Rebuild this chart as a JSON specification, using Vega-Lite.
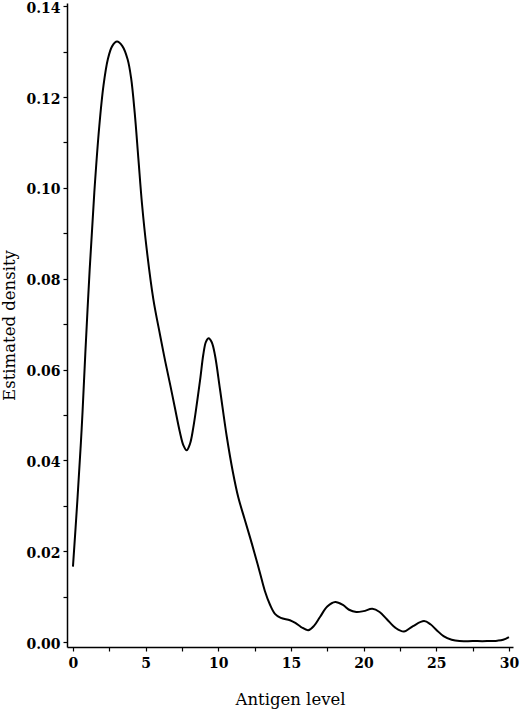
{
  "$schema": "https://vega.github.io/schema/vega-lite/v6.json",
  "autosize": {"type": "none"},
  "padding": {"left": 67, "top": 3, "right": 7, "bottom": 62},
  "width": 446,
  "height": 644,
  "background": "white",
  "config": {
    "view": {"stroke": null},
    "font": "DejaVu Serif",
    "axis": {
      "grid": false,
      "domainColor": "black",
      "domainWidth": 1.5,
      "tickColor": "black",
      "tickWidth": 1.2,
      "tickSize": 4,
      "labelColor": "black",
      "labelFont": "DejaVu Serif",
      "labelFontSize": 14,
      "labelFontWeight": "bold",
      "titleFont": "DejaVu Serif",
      "titleFontSize": 16.5,
      "titleFontWeight": "normal",
      "titleColor": "black"
    }
  },
  "data": {
    "values": [
      {"x": 0, "y": 0.0166},
      {"x": 0.3, "y": 0.031},
      {"x": 0.6, "y": 0.047},
      {"x": 0.85, "y": 0.0635},
      {"x": 1.15, "y": 0.082},
      {"x": 1.47, "y": 0.099},
      {"x": 1.81, "y": 0.1135},
      {"x": 2.1, "y": 0.1225},
      {"x": 2.4, "y": 0.1283},
      {"x": 2.7, "y": 0.1312},
      {"x": 3.03, "y": 0.1322},
      {"x": 3.4, "y": 0.1312},
      {"x": 3.76, "y": 0.1283},
      {"x": 4.0, "y": 0.1242},
      {"x": 4.25, "y": 0.1165},
      {"x": 4.5, "y": 0.1065},
      {"x": 4.75, "y": 0.0965},
      {"x": 5.07, "y": 0.0866},
      {"x": 5.53, "y": 0.0755},
      {"x": 6.0, "y": 0.0675},
      {"x": 6.35, "y": 0.0618},
      {"x": 6.7, "y": 0.0565},
      {"x": 7.0, "y": 0.0518},
      {"x": 7.36, "y": 0.0462},
      {"x": 7.6, "y": 0.0433},
      {"x": 7.82, "y": 0.0422},
      {"x": 8.05, "y": 0.0436},
      {"x": 8.28, "y": 0.0472},
      {"x": 8.74, "y": 0.0575},
      {"x": 8.97, "y": 0.0633},
      {"x": 9.15, "y": 0.0661},
      {"x": 9.34, "y": 0.0669},
      {"x": 9.55, "y": 0.066},
      {"x": 9.77, "y": 0.0632},
      {"x": 10.12, "y": 0.0556},
      {"x": 10.58, "y": 0.0453},
      {"x": 11.0, "y": 0.0375},
      {"x": 11.38, "y": 0.0318},
      {"x": 11.8, "y": 0.0272},
      {"x": 12.18, "y": 0.0231},
      {"x": 12.5, "y": 0.0195},
      {"x": 12.87, "y": 0.0152},
      {"x": 13.2, "y": 0.0113},
      {"x": 13.56, "y": 0.0082},
      {"x": 13.9, "y": 0.0062},
      {"x": 14.3, "y": 0.0053},
      {"x": 14.93, "y": 0.0048},
      {"x": 15.3, "y": 0.0042},
      {"x": 15.7, "y": 0.0033},
      {"x": 16.19, "y": 0.0026},
      {"x": 16.6, "y": 0.0036},
      {"x": 17.0, "y": 0.0055},
      {"x": 17.5, "y": 0.0078},
      {"x": 18.05, "y": 0.0088},
      {"x": 18.6, "y": 0.0081},
      {"x": 19.0, "y": 0.0071},
      {"x": 19.5, "y": 0.0066},
      {"x": 20.0, "y": 0.0068},
      {"x": 20.6, "y": 0.0073},
      {"x": 21.1, "y": 0.0066},
      {"x": 21.6, "y": 0.005},
      {"x": 22.2, "y": 0.0031},
      {"x": 22.78, "y": 0.0023},
      {"x": 23.4, "y": 0.0035},
      {"x": 24.16, "y": 0.0046},
      {"x": 24.6, "y": 0.0039},
      {"x": 25.03, "y": 0.0026},
      {"x": 25.5, "y": 0.0013},
      {"x": 26.06, "y": 0.0005},
      {"x": 26.6, "y": 0.0002},
      {"x": 27.5, "y": 0.0002},
      {"x": 28.5, "y": 0.0002},
      {"x": 29.2, "y": 0.0003},
      {"x": 29.6, "y": 0.0005},
      {"x": 30, "y": 0.0011}
    ]
  },
  "mark": {"type": "line", "color": "black", "strokeWidth": 2, "interpolate": "catmull-rom", "clip": false},
  "encoding": {
    "x": {
      "field": "x",
      "type": "quantitative",
      "scale": {"domain": [-0.41, 30.28], "nice": false, "zero": false},
      "axis": {
        "title": "Antigen level",
        "values": [0, 2.5, 5, 7.5, 10, 12.5, 15, 17.5, 20, 22.5, 25, 27.5, 30],
        "labelExpr": "datum.value % 5 == 0 ? format(datum.value, 'd') : ''",
        "labelPadding": 5,
        "titlePadding": 21
      }
    },
    "y": {
      "field": "y",
      "type": "quantitative",
      "scale": {"domain": [-0.0011, 0.1407], "nice": false, "zero": false},
      "axis": {
        "title": "Estimated density",
        "values": [0, 0.01, 0.02, 0.03, 0.04, 0.05, 0.06, 0.07, 0.08, 0.09, 0.1, 0.11, 0.12, 0.13, 0.14],
        "labelExpr": "round(datum.value * 100) % 2 == 0 ? format(datum.value, '.2f') : ''",
        "labelPadding": 3,
        "labelOffset": 2,
        "titlePadding": 8
      }
    }
  }
}
